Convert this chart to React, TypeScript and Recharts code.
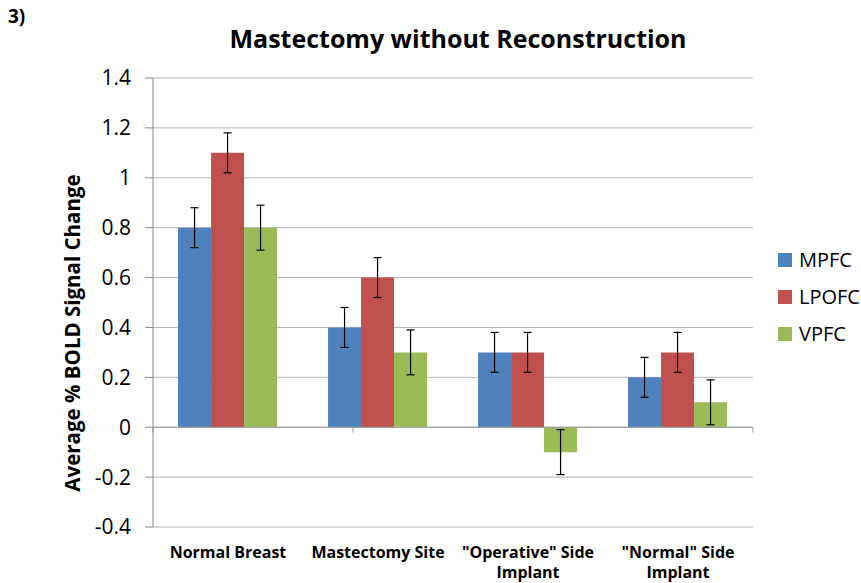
import React from "react";
import {
  BarChart,
  Bar,
  XAxis,
  YAxis,
  CartesianGrid,
  ErrorBar,
  ReferenceLine,
} from "recharts";

const FONT = "'Open Sans', sans-serif";

// categories (tick labels, "\n" marks the line break used in the original)
const categories = [
  "Normal Breast",
  "Mastectomy Site",
  '"Operative" Side\nImplant',
  '"Normal" Side\nImplant',
];

const seriesNames = ["MPFC", "LPOFC", "VPFC"];
const seriesColors = ["#4F81BD", "#C0504D", "#9BBB59"];

const mpfc = [0.8, 0.4, 0.3, 0.2];
const lpofc = [1.1, 0.6, 0.3, 0.3];
const vpfc = [0.8, 0.3, -0.1, 0.1];

const mpfcErr = [0.08, 0.08, 0.08, 0.08];
const lpofcErr = [0.08, 0.08, 0.08, 0.08];
const vpfcErr = [0.09, 0.09, 0.09, 0.09];

const yTicks = [-0.4, -0.2, 0, 0.2, 0.4, 0.6, 0.8, 1, 1.2, 1.4];
// category boundaries on a hidden numeric axis, for the small ticks on the zero line
const boundaries = [0, 1, 2, 3, 4];

const data = categories.map((name, i) => ({
  name,
  MPFC: mpfc[i],
  LPOFC: lpofc[i],
  VPFC: vpfc[i],
  MPFCErr: mpfcErr[i],
  LPOFCErr: lpofcErr[i],
  VPFCErr: vpfcErr[i],
}));

function CategoryTick({ x, y, payload }: any) {
  const lines = String(payload.value).split("\n");
  return (
    <text
      x={x}
      y={y}
      textAnchor="middle"
      fill="#000"
      fontFamily={FONT}
      fontWeight="bold"
      fontSize={16}
    >
      {lines.map((l, i) => (
        <tspan key={i} x={x} dy={i === 0 ? 31 : 20}>
          {l}
        </tspan>
      ))}
    </text>
  );
}

export default function App() {
  return (
    <div
      style={{
        position: "absolute",
        left: 0,
        top: 0,
        width: 861,
        height: 583,
        background: "#fff",
        fontFamily: FONT,
        overflow: "hidden",
      }}
    >
      <div
        style={{
          position: "absolute",
          left: 8,
          top: 7,
          fontSize: 19,
          fontWeight: "bold",
          lineHeight: 1,
        }}
      >
        3)
      </div>
      <div
        style={{
          position: "absolute",
          left: 458,
          top: 38,
          transform: "translate(-50%, -50%)",
          fontSize: 25,
          fontWeight: "bold",
          whiteSpace: "nowrap",
          lineHeight: 1,
        }}
      >
        Mastectomy without Reconstruction
      </div>
      <div
        style={{
          position: "absolute",
          left: 72,
          top: 333,
          transform: "translate(-50%, -50%) rotate(-90deg)",
          fontSize: 20.5,
          fontWeight: "bold",
          whiteSpace: "nowrap",
          lineHeight: 1,
        }}
      >
        Average % BOLD Signal Change
      </div>

      <BarChart
        width={861}
        height={583}
        data={data}
        margin={{ top: 78, right: 108, bottom: 6, left: 93 }}
        barCategoryGap="16.7%"
        barGap={0}
      >
        <CartesianGrid horizontal vertical={false} stroke="#b4b4b4" />
        <XAxis
          dataKey="name"
          height={50}
          axisLine={false}
          tickLine={false}
          tickSize={0}
          tickMargin={0}
          interval={0}
          tick={<CategoryTick />}
        />
        <XAxis
          xAxisId="grid"
          type="number"
          domain={[0, 4]}
          hide
        />
        <YAxis
          width={60}
          domain={[-0.4, 1.4]}
          ticks={yTicks}
          interval={0}
          tickFormatter={(v: number) => String(Number(v.toFixed(1)))}
          axisLine={{ stroke: "#8a8a8a" }}
          tickLine={{ stroke: "#8a8a8a" }}
          tickSize={8}
          tickMargin={14}
          tick={{ fill: "#000", fontSize: 21, fontFamily: FONT }}
        />
        <ReferenceLine y={0} stroke="#9a9a9a" />
        {boundaries.map((b) => (
          <ReferenceLine
            key={b}
            xAxisId="grid"
            segment={[
              { x: b, y: 0 },
              { x: b, y: -0.022 },
            ]}
            stroke="#9a9a9a"
          />
        ))}
        {seriesNames.map((s, i) => (
          <Bar
            key={s}
            dataKey={s}
            fill={seriesColors[i]}
            isAnimationActive={false}
          >
            <ErrorBar
              dataKey={s + "Err"}
              width={4}
              stroke="#000"
              strokeWidth={1.2}
              direction="y"
            />
          </Bar>
        ))}
      </BarChart>

      <div style={{ position: "absolute", left: 778, top: 241 }}>
        {seriesNames.map((s, i) => (
          <div
            key={s}
            style={{ display: "flex", alignItems: "center", height: 37 }}
          >
            <div
              style={{
                width: 14,
                height: 14,
                background: seriesColors[i],
                marginRight: 7,
              }}
            />
            <span style={{ fontSize: 20, lineHeight: 1 }}>{s}</span>
          </div>
        ))}
      </div>
    </div>
  );
}
